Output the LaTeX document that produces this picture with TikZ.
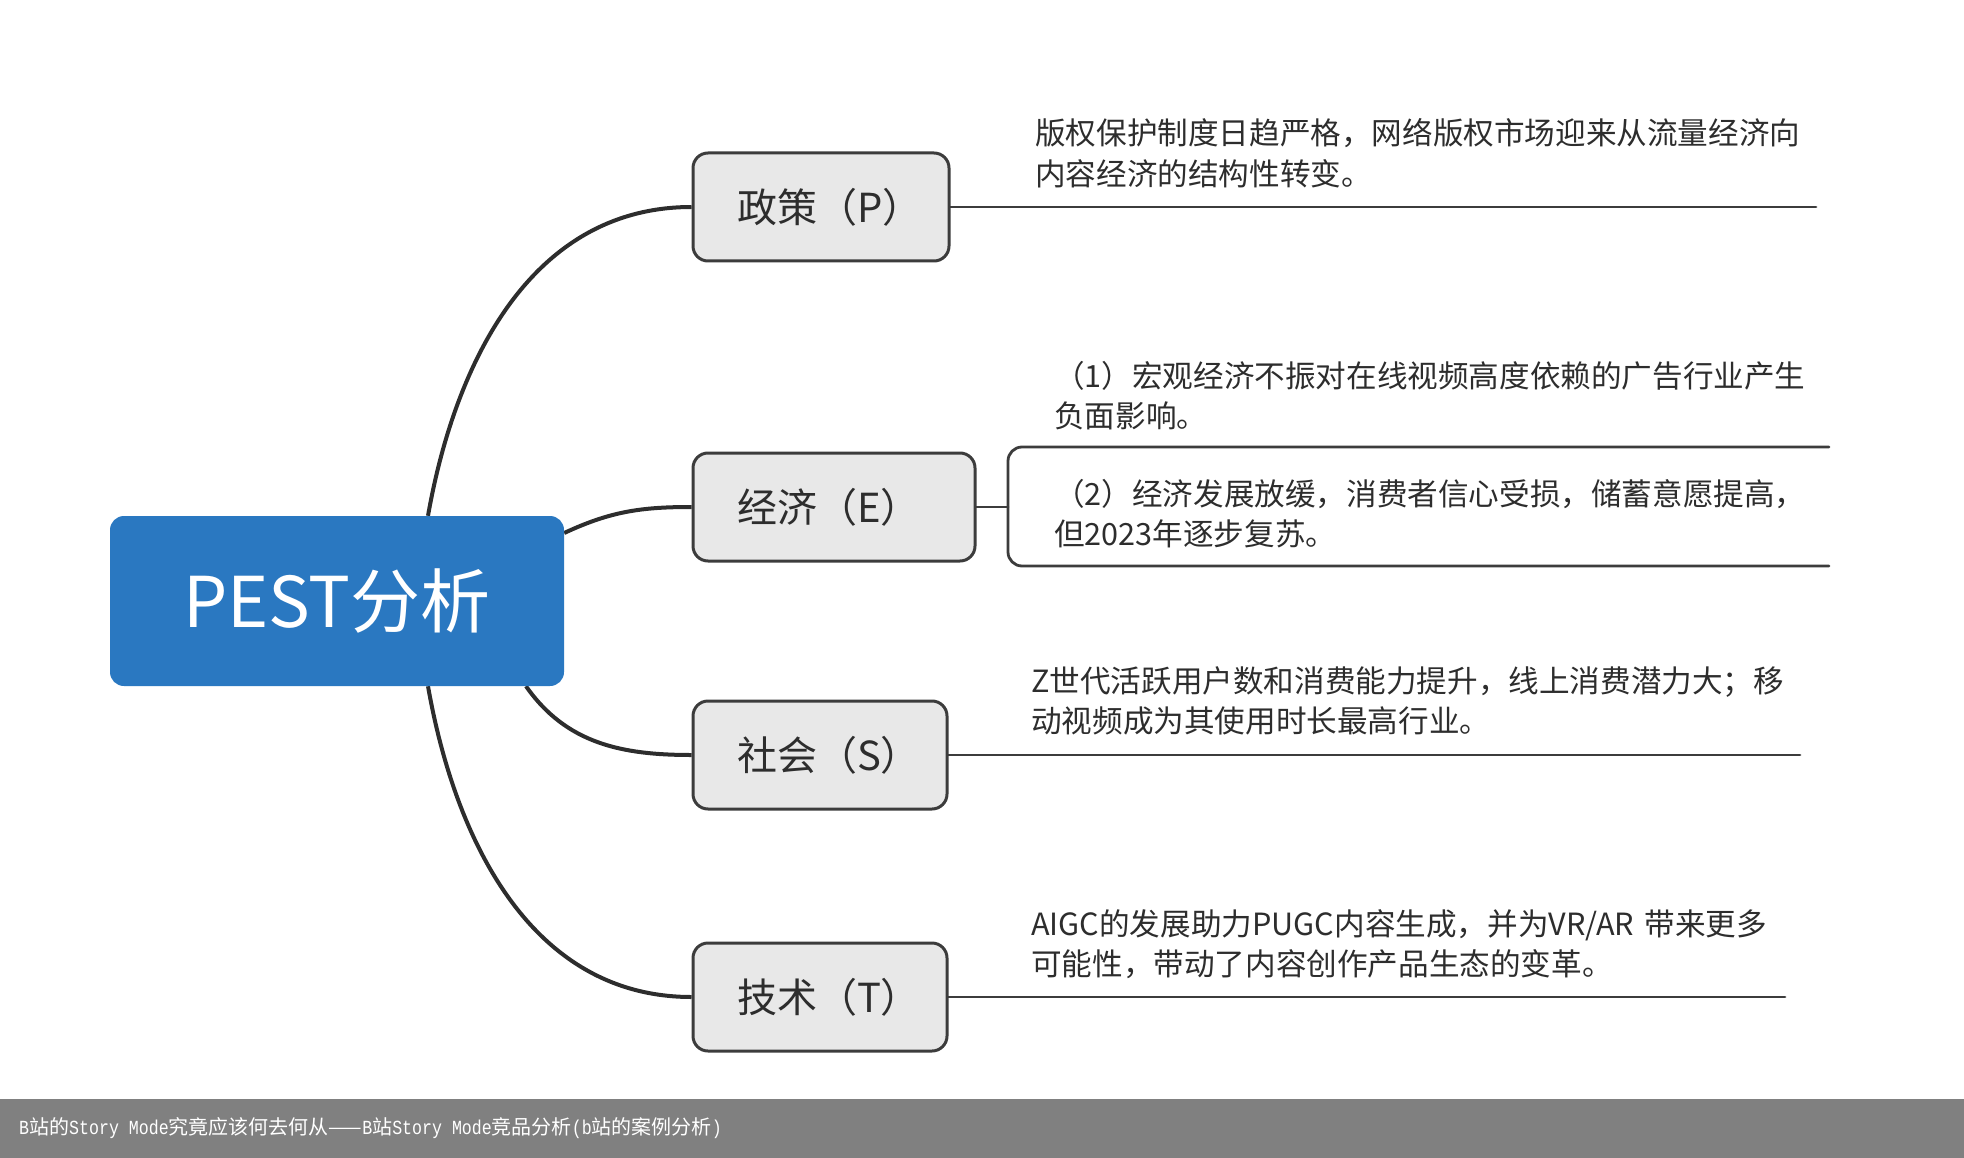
\documentclass[tikz,border=0pt]{standalone}
\usepackage{fontspec}
\setmainfont{Noto Sans CJK SC}
\newfontfamily\barmono[FakeStretch=0.83]{Liberation Mono}
\usetikzlibrary{backgrounds}
\definecolor{ink}{RGB}{45,45,45}
\definecolor{edge}{RGB}{60,60,60}
\definecolor{rootblue}{RGB}{42,120,193}
\definecolor{topicgray}{RGB}{232,232,232}
\definecolor{bargray}{RGB}{128,128,128}
\hfuzz=300pt
\newcommand\mono[1]{{\barmono #1}}
\begin{document}
\begin{tikzpicture}[x=1pt,y=-1pt,line join=round,line cap=round]
\tikzset{root/.style={fill=rootblue,rounded corners=14pt,minimum width=454pt,minimum height=170pt,text=white,font=\fontsize{70}{70}\selectfont},
topic/.style={draw=edge,fill=topicgray,line width=3pt,rounded corners=15pt,minimum height=108pt,inner xsep=44pt,text width=#1,align=left,text=ink,font=\fontsize{40}{40}\selectfont},
note/.style={anchor=base west,inner sep=0pt,text width=820pt,align=left,text=ink,font=\fontsize{30.6}{40.5}\selectfont},
branch/.style={draw=ink,line width=4pt},
rule/.style={draw=edge,line width=2.8pt}}
\useasboundingbox (0,0) rectangle (1964,1158);
\node[root] (pest) at (337,601) {PEST分析};
\node[topic=168pt] (pol) at (821,207) {政策（P）};
\node[topic=194pt] (eco) at (834,507) {经济（E）};
\node[topic=166pt] (soc) at (820,755) {社会（S）};
\node[topic=166pt] (tec) at (820,997) {技术（T）};
\coordinate (polend) at (1816,207);
\coordinate (socend) at (1800,755);
\coordinate (tecend) at (1785,997);
\coordinate (ecoknee) at (1008,507);
\coordinate (ecotop) at (1829,447);
\coordinate (ecobot) at (1829,566);
\begin{scope}[on background layer]
\draw[branch] ([xshift=91pt]pest.north) to[out=80,in=180] (pol.west);
\draw[branch] ([yshift=68pt]pest.east) to[out=25,in=180] (eco.west);
\draw[branch] ([xshift=189pt]pest.south) to[out=-55,in=180] (soc.west);
\draw[branch] ([xshift=91pt]pest.south) to[out=-80,in=180] (tec.west);
\end{scope}
\foreach \t/\e in {pol/polend,soc/socend,tec/tecend}
\draw[rule] (\t.east) -- (\e);
\draw[rule] (eco.east) -- (ecoknee);
\draw[rule,rounded corners=14pt] (ecotop) -| (ecoknee) |- (ecobot);
\node[note] (polnote) at (1035,145) {版权保护制度日趋严格，网络版权市场迎来从流量经济向\\内容经济的结构性转变。};
\node[note] (ecoone) at (1054,387) {（1）宏观经济不振对在线视频高度依赖的广告行业产生\\负面影响。};
\node[note] (ecotwo) at (1054,505) {（2）经济发展放缓，消费者信心受损，储蓄意愿提高，\\但2023年逐步复苏。};
\node[note] (socnote) at (1031,692) {Z世代活跃用户数和消费能力提升，线上消费潜力大；移\\动视频成为其使用时长最高行业。};
\node[note] (tecnote) at (1031,935) {AIGC的发展助力PUGC内容生成，并为VR/AR 带来更多\\可能性，带动了内容创作产品生态的变革。};
\fill[bargray] (0,1099) rectangle (1964,1158);
\node[anchor=west,inner sep=0pt,text=white,font=\fontsize{20}{20}\selectfont] (caption) at (19,1128) {\mono{B}站的\mono{Story Mode}究竟应该何去何从——\mono{B}站\mono{Story Mode}竞品分析\mono{(b}站的案例分析\mono{)}};
\end{tikzpicture}
\end{document}
